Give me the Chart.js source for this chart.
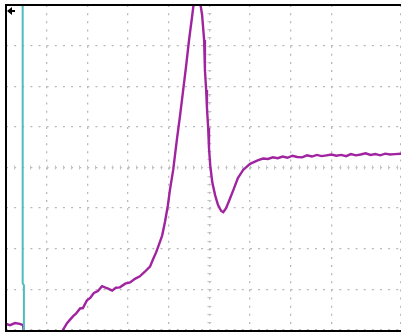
<!DOCTYPE html>
<html>
<head>
<meta charset="utf-8">
<script src="https://cdn.jsdelivr.net/npm/chart.js@4/dist/chart.umd.min.js"></script>
<style>
  body { margin: 0; background: #fff; }
  #scope { display: block; }
</style>
</head>
<body>
<canvas id="scope" width="401" height="334"></canvas>
<script>
// Channel 1 trace (purple), in screen divisions
const ch1Time = [0, 0.10, 0.22, 0.34, 0.42, 0.47, 1.33, 1.40, 1.50, 1.57, 1.65, 1.72, 1.82, 1.89, 1.99, 2.07,
    2.16, 2.26, 2.36, 2.43, 2.51, 2.61, 2.70, 2.80, 2.93, 3.05, 3.17, 3.29, 3.42, 3.54, 3.61, 3.69,
    3.76, 3.84, 3.91, 3.98, 4.03, 4.11, 4.20, 4.28, 4.35, 4.43, 4.50, 4.57, 4.62, 4.70, 4.77, 4.82,
    4.87, 4.89, 4.92, 4.94, 4.97, 4.99, 5.02, 5.07, 5.14, 5.21, 5.29, 5.34, 5.41, 5.48, 5.59, 5.70,
    5.83, 6.00, 6.20, 6.32, 6.44, 6.56, 6.68, 6.80, 6.92, 7.04, 7.16, 7.28, 7.40, 7.52, 7.64, 7.76,
    7.88, 8.00, 8.12, 8.24, 8.36, 8.48, 8.60, 8.72, 8.84, 8.96, 9.08, 9.20, 9.32, 9.44, 9.56, 9.71];
const ch1Volts = [-3.85, -3.88, -3.83, -3.85, -3.88, -4.37, -4.37, -4.00, -3.83, -3.75, -3.66, -3.60, -3.47, -3.46, -3.27, -3.21,
    -3.09, -3.04, -2.92, -2.95, -2.98, -3.03, -2.96, -2.95, -2.86, -2.83, -2.74, -2.68, -2.56, -2.44, -2.27, -2.09,
    -1.90, -1.67, -1.33, -0.93, -0.55, -0.06, 0.68, 1.29, 1.86, 2.52, 3.14, 3.68, 4.08, 4.25, 4.08, 3.76,
    3.14, 2.40, 1.91, 1.47, 0.97, 0.48, 0.06, -0.36, -0.68, -0.92, -1.07, -1.10, -1.00, -0.83, -0.55, -0.26,
    -0.06, 0.09, 0.18, 0.22, 0.21, 0.25, 0.23, 0.27, 0.24, 0.29, 0.26, 0.25, 0.30, 0.27, 0.31, 0.28,
    0.30, 0.32, 0.29, 0.31, 0.28, 0.33, 0.30, 0.32, 0.35, 0.31, 0.33, 0.30, 0.34, 0.32, 0.33, 0.34];

// Channel 2 trace (cyan)
const ch2Time = [0.41, 0.41, 0.44, 0.44];
const ch2Volts = [4.2, -2.85, -2.9, -4.2];

// Screen: 10 x 8 divisions, right edge cut off
const xDivs = [0, 9.71];
const yDivs = [-4, 4];

function toPoints(xs, ys) {
    return xs.map((x, i) => ({ x: x, y: ys[i] }));
}

// Frame, trigger arrow and centre tick marks
const scopeDecor = {
    id: 'scopeDecor',
    beforeDatasetsDraw(chart) {
        const ctx = chart.ctx;
        const xs = chart.scales.x;
        const ys = chart.scales.y;
        ctx.save();
        ctx.strokeStyle = '#c4c4c4';
        ctx.lineWidth = 1;
        ctx.beginPath();
        const cx = xs.getPixelForValue(5);
        const cy = ys.getPixelForValue(0);
        for (let v = yDivs[0]; v <= yDivs[1]; v += 0.2) {
            const p = Math.round(ys.getPixelForValue(v)) + 0.5;
            ctx.moveTo(cx - 2, p);
            ctx.lineTo(cx + 2, p);
        }
        for (let v = 0; v <= xDivs[1]; v += 0.2) {
            const p = Math.round(xs.getPixelForValue(v)) + 0.5;
            ctx.moveTo(p, cy - 2);
            ctx.lineTo(p, cy + 2);
        }
        ctx.stroke();
        ctx.restore();
    },
    afterDraw(chart) {
        const ctx = chart.ctx;
        const a = chart.chartArea;
        ctx.save();
        ctx.fillStyle = '#000';
        ctx.fillRect(a.left - 1, a.top - 1, a.right - a.left + 1, 2);
        ctx.fillRect(a.left - 1, a.top - 1, 2, a.bottom - a.top + 2);
        ctx.fillRect(a.left - 1, a.bottom, a.right - a.left + 1, 2);
        // little trigger arrow in the corner
        ctx.beginPath();
        ctx.moveTo(a.left + 1, a.top + 6);
        ctx.lineTo(a.left + 6, a.top + 2);
        ctx.lineTo(a.left + 6, a.top + 10);
        ctx.closePath();
        ctx.fill();
        ctx.fillRect(a.left + 5, a.top + 5, 4, 2);
        ctx.restore();
    }
};

const gridOpts = { color: '#b8b8b8', lineWidth: 1.3, drawTicks: false };

new Chart(document.getElementById('scope'), {
    type: 'line',
    data: {
        datasets: [
            {
                label: 'CH2',
                data: toPoints(ch2Time, ch2Volts),
                borderColor: '#4dbdbd',
                borderWidth: 2,
                pointRadius: 0,
                tension: 0
            },
            {
                label: 'CH1',
                data: toPoints(ch1Time, ch1Volts),
                borderColor: '#a023a0',
                borderWidth: 2.4,
                pointRadius: 0,
                tension: 0
            }
        ]
    },
    options: {
        responsive: false,
        animation: false,
        devicePixelRatio: 1,
        layout: { padding: { left: 6, top: 5, right: 0, bottom: 4 } },
        plugins: { legend: { display: false }, tooltip: { enabled: false } },
        scales: {
            x: {
                type: 'linear',
                min: xDivs[0],
                max: xDivs[1],
                ticks: { display: false, stepSize: 1 },
                grid: gridOpts,
                border: { display: false, dash: [2, 6.125] },
                afterFit: s => { s.height = 0; }
            },
            y: {
                type: 'linear',
                min: yDivs[0],
                max: yDivs[1],
                ticks: { display: false, stepSize: 1 },
                grid: gridOpts,
                border: { display: false, dash: [2, 6.13] },
                afterFit: s => { s.width = 0; }
            }
        }
    },
    plugins: [scopeDecor]
});
</script>
</body>
</html>
